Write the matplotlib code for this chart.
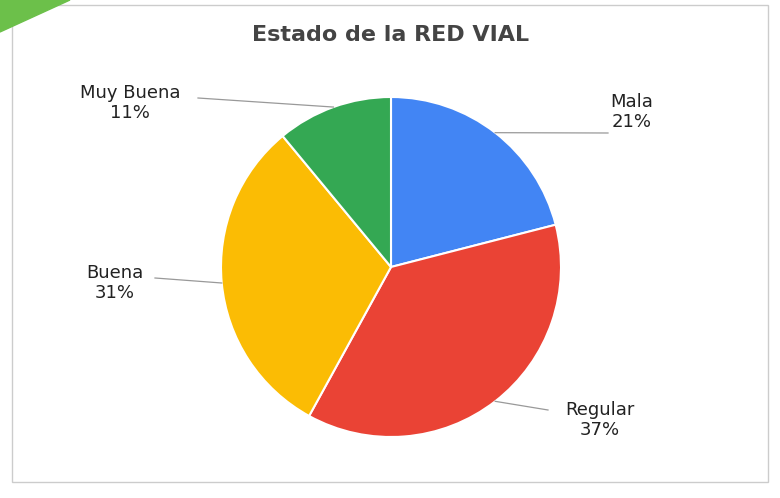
import matplotlib
matplotlib.use("Agg")
import matplotlib.pyplot as plt
import numpy as np
from matplotlib.patches import Rectangle, Polygon

labels = ["Mala", "Regular", "Buena", "Muy Buena"]
values = [21, 37, 31, 11]
colors = ["#4285F4", "#EA4335", "#FBBC04", "#34A853"]

W, H = 780, 498
cx, cy, R = 391, 267, 170
fig = plt.figure(figsize=(7.8, 4.98), dpi=100)
fig.patches.append(Rectangle((12/W, 16/H), 756/W, 477/H, transform=fig.transFigure,
                             fill=False, ec="#cccccc", lw=1))
fig.patches.append(Polygon([(0, 1), (70/W, 1), (0, 1-32/H)], transform=fig.transFigure,
                           color="#6cc04a"))
ax = fig.add_axes([0, 0, 1, 1])
ax.pie(values, colors=colors, startangle=90, counterclock=False, radius=1,
       wedgeprops=dict(edgecolor="white", linewidth=1.5))
ax.set_aspect("auto")
ax.set_xlim(-cx/R, (W-cx)/R)
ax.set_ylim(-(H-cy)/R, cy/R)
ax.axis("off")

def px(x, y):
    return ((x-cx)/R, (cy-y)/R)

text_pos = [(632, 112), (600, 420), (115, 283), (130, 103)]
line_end = [(608, 133), (548, 410), (155, 278), (198, 98)]
cum = np.cumsum([0] + values) / sum(values)
for i, lab in enumerate(labels):
    a = np.deg2rad(90 - (cum[i] + cum[i+1]) / 2 * 360)
    sx, sy = np.cos(a), np.sin(a)
    ex, ey = px(*line_end[i])
    ax.plot([sx, ex], [sy, ey], color="#999999", lw=0.9)
    tx, ty = px(*text_pos[i])
    ax.text(tx, ty, f"{lab}\n{values[i]}%", ha="center", va="center",
            fontsize=13, color="#222222", linespacing=1.15)

fig.text(391/W, 1-35/H, "Estado de la RED VIAL", ha="center", va="center",
         fontsize=16, fontweight="bold", color="#444444")
fig.savefig("out.png", dpi=100)
